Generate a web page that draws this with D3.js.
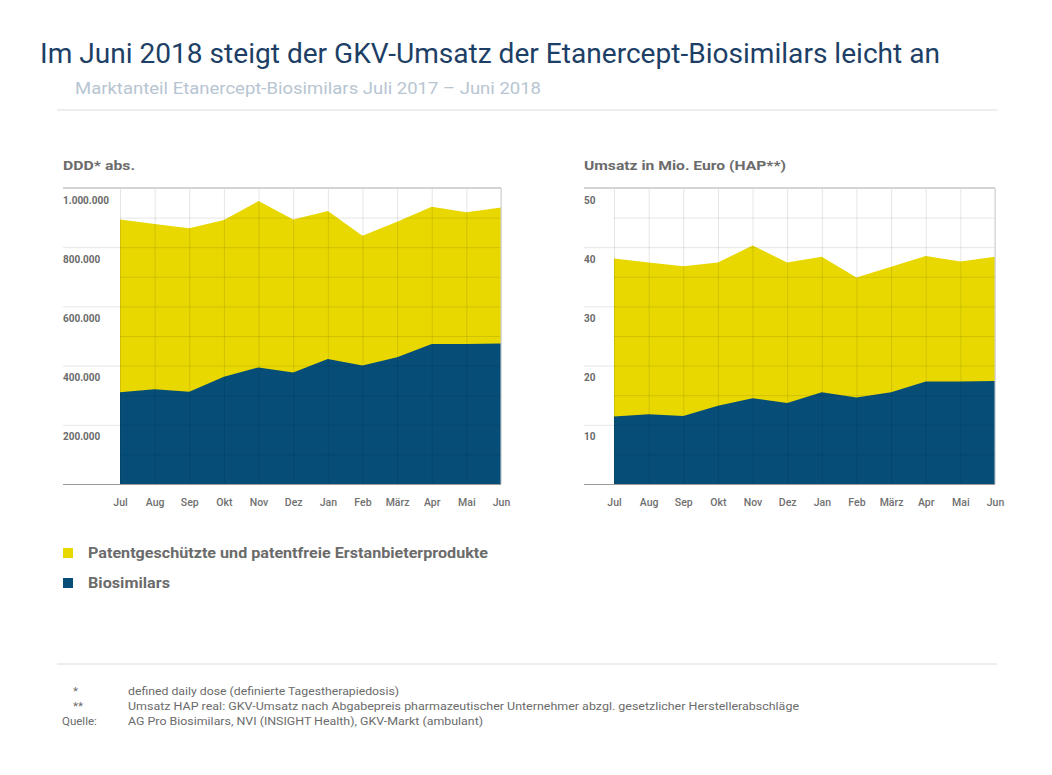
<!DOCTYPE html>
<html><head><meta charset="utf-8">
<script src="https://cdn.jsdelivr.net/npm/d3@7"></script>
<style>
body{margin:0;background:#fff;}
svg{display:block;}
text{font-family:Roboto, "Noto Sans", sans-serif;}
</style></head>
<body>
<svg id="c" width="1052" height="775"></svg>
<script>
const months = ["Jul","Aug","Sep","Okt","Nov","Dez","Jan","Feb","März","Apr","Mai","Jun"];
// DDD absolute: total and biosimilars
const dddTotal = [894000,878000,864000,892000,956000,894000,922000,839000,886000,937000,918000,934000];
const dddBio   = [310000,320000,312000,362000,394000,377000,422000,400000,428000,473000,473000,475000];
// Umsatz in Mio. Euro
const umsTotal = [38.1,37.4,36.8,37.4,40.3,37.4,38.4,34.9,36.7,38.5,37.6,38.4];
const umsBio   = [11.4,11.8,11.5,13.2,14.5,13.7,15.5,14.6,15.5,17.3,17.3,17.4];
const dddTicks = [200000,400000,600000,800000,1000000];
const umsTicks = [10,20,30,40,50];
const seriesNames = ["Patentgeschützte und patentfreie Erstanbieterprodukte","Biosimilars"];

const YELLOW = "#e8d800", BLUE = "#064e78", GRAY = "#6b6b6b";
const svg = d3.select("#c");
const de = d3.formatLocale({decimal:",",thousands:".",grouping:[3],currency:["","€"]});

function fitText(sel, w){ sel.attr("textLength", w).attr("lengthAdjust","spacingAndGlyphs"); }

// Title
svg.append("text").attr("x",40).attr("y",63).attr("font-size",28).attr("fill","#1d3f66")
  .text("Im Juni 2018 steigt der GKV-Umsatz der Etanercept-Biosimilars leicht an").call(fitText,900);
svg.append("text").attr("x",75).attr("y",94).attr("font-size",17).attr("fill","#b7c5d2")
  .text("Marktanteil Etanercept-Biosimilars Juli 2017 – Juni 2018").call(fitText,466);
svg.append("line").attr("x1",57).attr("x2",997).attr("y1",110).attr("y2",110).attr("stroke","#dcdcdc");

function chart(o){
  const g = svg.append("g");
  const x = d3.scalePoint().domain(months).range([o.x0,o.x1]);
  const y = d3.scaleLinear().domain([0,o.max]).range([484,188]);
  g.append("text").attr("x",o.lx).attr("y",170).attr("font-size",13.5).attr("font-weight","bold")
    .attr("fill",GRAY).text(o.title).call(fitText,o.tw);
  const area = (vals) => d3.area().x((d,i)=>x(months[i])).y0(y(0)).y1(d=>y(d))(vals);
  g.append("path").attr("d",area(o.total)).attr("fill",YELLOW);
  g.append("path").attr("d",area(o.bio)).attr("fill",BLUE);
  // minor horizontal gridlines
  const minor = d3.range(1,10,2).map(k=>k*o.max/10);
  const gm = g.append("g").attr("transform",`translate(${o.x0},0)`)
    .call(d3.axisLeft(y).tickValues(minor).tickSize(-(o.x1-o.x0)).tickFormat(""));
  gm.select(".domain").remove();
  gm.selectAll("line").attr("stroke","rgba(0,0,0,0.1)");
  // vertical gridlines + x labels
  const gx = g.append("g").attr("transform","translate(0,484)")
    .call(d3.axisBottom(x).tickSize(296).tickSizeInner(-296).tickPadding(0));
  gx.select(".domain").remove();
  gx.selectAll("line").attr("stroke","rgba(0,0,0,0.1)");
  gx.selectAll("text").attr("y",22).attr("dy",0).attr("font-size",10.5).attr("font-weight",500)
    .attr("fill","#707070").attr("font-family","Roboto");
  // major horizontal gridlines + labels
  const gy = g.append("g").attr("transform",`translate(${o.lx},0)`)
    .call(d3.axisLeft(y).tickValues(o.ticks).tickSize(-(o.x1-o.lx)).tickFormat(o.fmt));
  gy.select(".domain").remove();
  gy.selectAll("line").attr("stroke","rgba(0,0,0,0.1)");
  gy.selectAll("text").attr("x",0).attr("dy",15).attr("text-anchor","start")
    .attr("font-size",10).attr("font-weight","bold").attr("fill",GRAY).attr("font-family","Roboto");
  // top border
  g.append("line").attr("x1",o.lx).attr("x2",o.x1).attr("y1",y(o.max)).attr("y2",y(o.max))
    .attr("stroke","#d4d4d4").attr("stroke-width",2);
  g.append("line").attr("x1",o.x1).attr("x2",o.x1).attr("y1",y(o.max)).attr("y2",y(0))
    .attr("stroke","#d0d0d0");
  // baseline
  g.append("line").attr("x1",o.lx).attr("x2",o.x1).attr("y1",y(0)+0.5).attr("y2",y(0)+0.5)
    .attr("stroke","#9a9a9a");
}

chart({x0:120,x1:501,lx:63,max:1000000,total:dddTotal,bio:dddBio,ticks:dddTicks,
  fmt:de.format(",d"),title:"DDD* abs.",tw:72});
chart({x0:614,x1:995,lx:584,max:50,total:umsTotal,bio:umsBio,ticks:umsTicks,
  fmt:d3.format("d"),title:"Umsatz in Mio. Euro (HAP**)",tw:202});

// Legend
const leg = svg.append("g");
[[YELLOW,seriesNames[0],553,400],[BLUE,seriesNames[1],583,82]].forEach(([c,t,yy,w])=>{
  leg.append("rect").attr("x",63).attr("y",yy-5).attr("width",10).attr("height",10).attr("fill",c);
  leg.append("text").attr("x",88).attr("y",yy+5).attr("font-size",14).attr("font-weight","bold")
    .attr("fill",GRAY).text(t).call(fitText,w);
});

// Footer
svg.append("line").attr("x1",57).attr("x2",997).attr("y1",664).attr("y2",664).attr("stroke","#dcdcdc");
const foot = [["*",73,"defined daily dose (definierte Tagestherapiedosis)",128,271,695],
  ["**",73,"Umsatz HAP real: GKV-Umsatz nach Abgabepreis pharmazeutischer Unternehmer abzgl. gesetzlicher Herstellerabschläge",128,671,710],
  ["Quelle:",62,"AG Pro Biosimilars, NVI (INSIGHT Health), GKV-Markt (ambulant)",128,355,725]];
foot.forEach(([a,ax,t,tx,w,yy])=>{
  svg.append("text").attr("x",ax).attr("y",yy).attr("font-size",11.5).attr("fill",GRAY).text(a);
  svg.append("text").attr("x",tx).attr("y",yy).attr("font-size",11.5).attr("fill",GRAY).text(t).call(fitText,w);
});
</script>
</body></html>
